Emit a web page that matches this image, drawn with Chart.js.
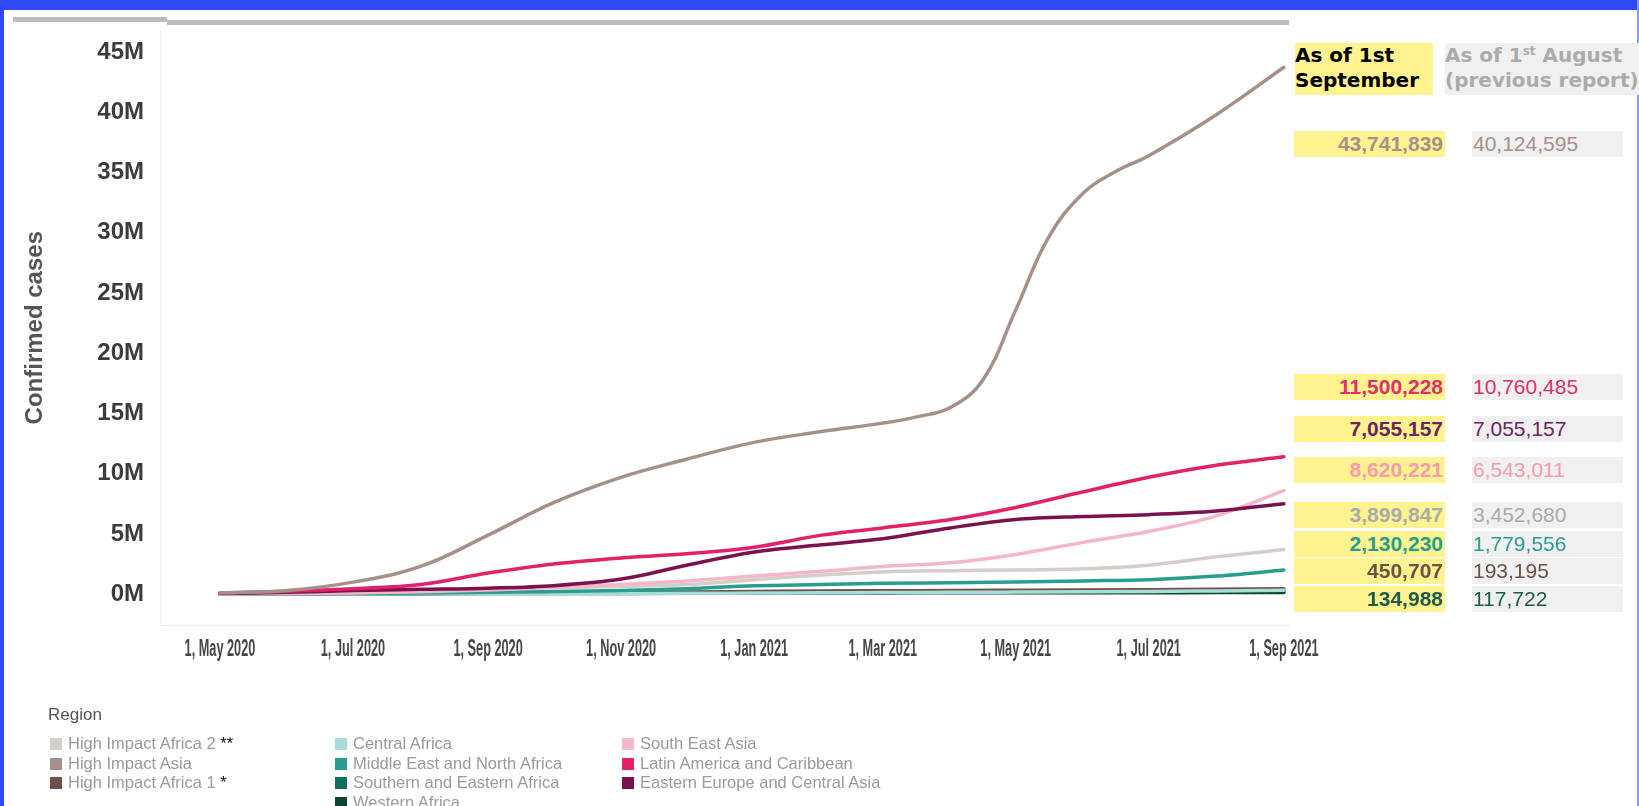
<!DOCTYPE html>
<html>
<head>
<meta charset="utf-8">
<title>Confirmed cases by region</title>
<script src="https://cdn.jsdelivr.net/npm/chart.js@4.4.1/dist/chart.umd.min.js"></script>
<style>
  body { margin: 0; width: 1639px; height: 806px; overflow: hidden; background: #fff; position: relative; font-family: "Liberation Sans", Arial, sans-serif; }
  .abs { position: absolute; }
  #grafik { position: absolute; left: 0; top: 0; }
  .cur { position: absolute; left: 1294px; width: 149px; height: 26px; padding-right: 2px; background: #fff38f; text-align: right; font-weight: bold; font-size: 21px; line-height: 26px; }
  .prev { position: absolute; left: 1472px; width: 150px; height: 26px; padding-left: 1px; background: #f0f0f0; font-size: 21px; line-height: 26px; }
  .hdr { position: absolute; top: 43px; height: 52px; font-family: "DejaVu Sans", sans-serif; font-weight: bold; font-size: 20px; line-height: 25px; white-space: nowrap; overflow: hidden; }
  .leg { position: absolute; font-size: 16.5px; color: #9a9a9a; white-space: nowrap; line-height: 20px; }
  .leg i { display: inline-block; width: 12px; height: 12px; margin-right: 6px; vertical-align: -1px; }
  .leg b { color: #111; font-weight: normal; }
</style>
</head>
<body>
<div class="abs" style="left:0;top:0;width:1639px;height:10px;background:#2f49f6"></div>
<div class="abs" style="left:0;top:0;width:4px;height:806px;background:#2f49f6"></div>
<div class="abs" style="left:1637px;top:0;width:2px;height:806px;background:#8a98f4"></div>
<div class="abs" style="left:13px;top:17px;width:154px;height:5px;background:#bbb"></div>
<div class="abs" style="left:167px;top:20px;width:1122px;height:5px;background:#bbb"></div>

<canvas id="grafik" width="1639" height="806"></canvas>

<div class="hdr" style="left:1295px;width:138px;background:#fff38f;color:#000">As of 1st<br>September</div>
<div class="hdr" style="left:1445px;width:194px;background:#f0f0f0;color:#ababab">As of 1<sup style="font-size:12px;vertical-align:7px;line-height:0">st</sup> August<br>(previous report)</div>

<div id="table"></div>
<div id="legend"></div>

<script>
// tanggal awal bulan (data per bulan)
const months = ["2020-05-01", "2020-06-01", "2020-07-01", "2020-08-01", "2020-09-01", "2020-10-01", "2020-11-01", "2020-12-01",
  "2021-01-01", "2021-02-01", "2021-03-01", "2021-04-01", "2021-05-01", "2021-06-01", "2021-07-01", "2021-08-01", "2021-09-01"];

// High Impact Asia is read twice a month where it climbs fast
const asiaDates = ["2020-05-01", "2020-06-01", "2020-07-01", "2020-08-01", "2020-09-01", "2020-10-01", "2020-11-01", "2020-12-01",
  "2021-01-01", "2021-02-01", "2021-03-01", "2021-03-16", "2021-04-01", "2021-04-16", "2021-05-01", "2021-05-16",
  "2021-06-01", "2021-06-16", "2021-07-01", "2021-08-01", "2021-09-01"];

// confirmed cases, in millions
const highImpactAsia = [0.1, 0.3, 1.0, 2.3, 4.9, 7.6, 9.7, 11.2, 12.6, 13.5, 14.2, 14.7, 15.5, 17.8, 23.6, 29.6, 33.3, 35.1, 36.4, 39.8, 43.74];
const latinAmerica = [0.1, 0.25, 0.45, 0.8, 1.75, 2.5, 3.0, 3.35, 3.9, 4.9, 5.5, 6.2, 7.2, 8.5, 9.7, 10.7, 11.4];
const easternEurope = [0.05, 0.15, 0.3, 0.4, 0.5, 0.7, 1.25, 2.4, 3.5, 4.1, 4.6, 5.5, 6.2, 6.45, 6.6, 6.9, 7.5];
const southEastAsia = [0.02, 0.05, 0.1, 0.2, 0.35, 0.55, 0.8, 1.1, 1.5, 1.9, 2.3, 2.6, 3.3, 4.3, 5.2, 6.5, 8.6];
const highImpactAfrica2 = [0.02, 0.1, 0.2, 0.35, 0.45, 0.55, 0.65, 0.8, 1.2, 1.6, 1.85, 1.95, 2.0, 2.1, 2.4, 3.1, 3.7];
const middleEast = [0.01, 0.03, 0.06, 0.1, 0.15, 0.22, 0.3, 0.45, 0.7, 0.8, 0.9, 0.95, 1.0, 1.1, 1.2, 1.5, 2.0];
const centralAfrica = [0.005, 0.01, 0.02, 0.03, 0.04, 0.05, 0.06, 0.07, 0.09, 0.11, 0.13, 0.15, 0.17, 0.19, 0.22, 0.27, 0.32];
const southernEastern = [0.01, 0.02, 0.04, 0.06, 0.08, 0.1, 0.11, 0.12, 0.14, 0.16, 0.17, 0.18, 0.19, 0.2, 0.21, 0.23, 0.25];
const highImpactAfrica1 = [0.005, 0.01, 0.03, 0.06, 0.09, 0.12, 0.15, 0.18, 0.22, 0.26, 0.28, 0.3, 0.32, 0.34, 0.37, 0.41, 0.45];
const westernAfrica = [0.002, 0.005, 0.015, 0.03, 0.045, 0.055, 0.065, 0.075, 0.09, 0.1, 0.105, 0.11, 0.115, 0.118, 0.122, 0.128, 0.135];

// axis ticks
const xTickDates = ["2020-05-01", "2020-07-01", "2020-09-01", "2020-11-01", "2021-01-01", "2021-03-01", "2021-05-01", "2021-07-01", "2021-09-01"];
const xTickLabels = ["1, May 2020", "1, Jul 2020", "1, Sep 2020", "1, Nov 2020", "1, Jan 2021", "1, Mar 2021", "1, May 2021", "1, Jul 2021", "1, Sep 2021"];
const yTicks = [0, 5, 10, 15, 20, 25, 30, 35, 40, 45];

// table on the right
const currentTotals = ["43,741,839", "11,500,228", "7,055,157", "8,620,221", "3,899,847", "2,130,230", "450,707", "134,988"];
const previousTotals = ["40,124,595", "10,760,485", "7,055,157", "6,543,011", "3,452,680", "1,779,556", "193,195", "117,722"];
const tableColors = ["#a59189", "#e0306a", "#6b2460", "#f59cb0", "#aaaaaa", "#2a9e8e", "#6e5246", "#1e5b47"];
const rowTops = [131, 374, 416, 457, 502, 531, 558, 586];

const legendItems = [
  ["High Impact Africa 2", "#d6cdc9", " **"], ["High Impact Asia", "#a59189", ""], ["High Impact Africa 1", "#6e5246", " *"],
  ["Central Africa", "#a9dcd9", ""], ["Middle East and North Africa", "#2a9e8e", ""], ["Southern and Eastern Africa", "#11715f", ""], ["Western Africa", "#0d4536", ""],
  ["South East Asia", "#f4b6c9", ""], ["Latin America and Caribbean", "#e2216a", ""], ["Eastern Europe and Central Asia", "#7a124f", ""],
];
const legendCols = [[0, 1, 2], [3, 4, 5, 6], [7, 8, 9]];
const legendColX = [50, 335, 622];

const day0 = Date.parse("2020-05-01");
const toDay = (d) => (Date.parse(d) - day0) / 86400000;

function series(values, dates) {
  return values.map((v, i) => ({ x: toDay(dates[i]), y: v * 1e6 }));
}

// dataset 0 digambar paling atas
const lines = [
  ["High Impact Asia", highImpactAsia, "#a59189", asiaDates],
  ["Latin America and Caribbean", latinAmerica, "#e2216a", months],
  ["Eastern Europe and Central Asia", easternEurope, "#7a124f", months],
  ["South East Asia", southEastAsia, "#f4b6c9", months],
  ["High Impact Africa 2", highImpactAfrica2, "#d6cdc9", months],
  ["Middle East and North Africa", middleEast, "#2a9e8e", months],
  ["Central Africa", centralAfrica, "#a9dcd9", months],
  ["Western Africa", westernAfrica, "#0d4536", months],
  ["High Impact Africa 1", highImpactAfrica1, "#6e5246", months],
  ["Southern and Eastern Africa", southernEastern, "#11715f", months],
];

// x labels in the picture are very condensed, so they are drawn squeezed
const squeezedXLabels = {
  id: "squeezedXLabels",
  afterDraw(chart) {
    const ctx = chart.ctx;
    const xs = chart.scales.x;
    ctx.save();
    ctx.fillStyle = "#464646";
    ctx.font = "bold 24px 'Liberation Sans', Arial, sans-serif";
    ctx.textAlign = "center";
    ctx.textBaseline = "middle";
    xs.ticks.forEach((tick, i) => {
      ctx.save();
      ctx.translate(xs.getPixelForValue(tick.value), chart.chartArea.bottom + 24);
      ctx.scale(0.53, 1);
      ctx.fillText(xTickLabels[i], 0, 0);
      ctx.restore();
    });
    ctx.restore();
  },
};

new Chart(document.getElementById("grafik"), {
  type: "line",
  data: {
    datasets: lines.map(([label, values, color, dates], idx) => ({
      label: label,
      data: series(values, dates),
      borderColor: color,
      backgroundColor: color,
      borderWidth: 3.5,
      pointRadius: 0,
      // the big line bends smoothly, a plain tension suits it better
      cubicInterpolationMode: idx === 0 ? "default" : "monotone",
      tension: idx === 0 ? 0.4 : 0,
      borderCapStyle: "round",
    })),
  },
  options: {
    responsive: false,
    animation: false,
    layout: { padding: { left: 0, top: 25, right: 349, bottom: 121 } },
    plugins: { legend: { display: false }, tooltip: { enabled: false } },
    scales: {
      x: {
        type: "linear",
        min: -27.5,
        max: 490.8,
        grid: { display: false, drawTicks: false },
        border: { display: true, color: "#ececec" },
        afterFit: (axis) => { axis.height = 60; },
        afterBuildTicks: (axis) => { axis.ticks = xTickDates.map((d) => ({ value: toDay(d) })); },
        ticks: { display: false, autoSkip: false },
      },
      y: {
        min: -2.56e6,
        max: 46.8e6,
        grid: { display: false, drawTicks: false },
        border: { display: true, color: "#f2f2f2" },
        afterFit: (axis) => { axis.width = 160; },
        afterBuildTicks: (axis) => { axis.ticks = yTicks.map((v) => ({ value: v * 1e6 })); },
        title: {
          display: true,
          text: "Confirmed cases",
          color: "#555",
          padding: { top: 21, bottom: 0 },
          font: { family: "'Liberation Sans', Arial, sans-serif", size: 24, weight: "bold" },
        },
        ticks: {
          padding: 16,
          color: "#3c3c3c",
          font: { family: "'Liberation Sans', Arial, sans-serif", size: 24, weight: "bold" },
          callback: (v) => v / 1e6 + "M",
        },
      },
    },
  },
  plugins: [squeezedXLabels],
});

// tabel angka
const table = document.getElementById("table");
currentTotals.forEach((val, i) => {
  const cur = document.createElement("div");
  cur.className = "cur";
  cur.style.top = rowTops[i] + "px";
  cur.style.color = tableColors[i];
  cur.textContent = val;
  const prev = document.createElement("div");
  prev.className = "prev";
  prev.style.top = rowTops[i] + "px";
  prev.style.color = tableColors[i];
  prev.textContent = previousTotals[i];
  table.append(cur, prev);
});

// legend
const legend = document.getElementById("legend");
const title = document.createElement("div");
title.className = "leg";
title.style.left = "48px";
title.style.top = "705px";
title.style.color = "#555";
title.style.fontSize = "17px";
title.textContent = "Region";
legend.append(title);
legendCols.forEach((col, c) => {
  col.forEach((idx, r) => {
    const [name, color, star] = legendItems[idx];
    const item = document.createElement("div");
    item.className = "leg";
    item.style.left = legendColX[c] + "px";
    item.style.top = 733 + r * 19.5 + "px";
    item.innerHTML = `<i style="background:${color}"></i>${name}<b>${star}</b>`;
    legend.append(item);
  });
});
</script>
</body>
</html>
